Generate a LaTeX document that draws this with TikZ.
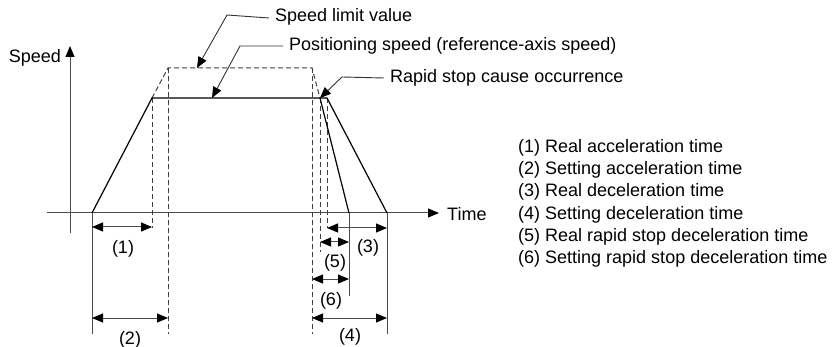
\documentclass[tikz,border=0pt]{standalone}
\usepackage{fontspec}
\setmainfont{Liberation Sans}
\usetikzlibrary{arrows.meta}
\begin{document}
\begin{tikzpicture}[x=1pt,y=-1pt,
  txt/.style={inner sep=0pt,font=\fontsize{18}{21}\selectfont},
  axis/.style={line width=1pt,draw=black!70},
  curve/.style={line width=1.2pt,draw=black},
  dsh/.style={line width=1pt,draw=black!75,dash pattern=on 5pt off 3pt},
  vline/.style={line width=1pt,draw=black!70},
  tipA/.style={-{Triangle[length=11pt,width=9pt,fill=black,color=black]}},
  dim/.style={line width=1pt,draw=black!70,{Triangle[length=11pt,width=9pt,fill=black,color=black]}-{Triangle[length=11pt,width=9pt,fill=black,color=black]}},
  leader/.style={line width=0.9pt,draw=black!80,-{Triangle[length=11pt,width=9pt,fill=black,color=black]}}
]
\useasboundingbox (0,0) rectangle (840,347);
% key points
\coordinate (o) at (70,213);
\coordinate (ytop) at (70,46);
\coordinate (ybot) at (70,233);
\coordinate (xl) at (47,213);
\coordinate (xr) at (439,213);
\coordinate (s0) at (92,213);
\coordinate (s1) at (152,98);
\coordinate (s2) at (327,98);
\coordinate (s3) at (387,213);
\coordinate (r1) at (320,98);
\coordinate (r2) at (349,213);
\coordinate (d1) at (168,68);
\coordinate (d2) at (312,68);
% axes
\draw[axis,tipA] (ybot) -- (ytop);
\draw[axis,tipA] (xl) -- (xr);
\node[txt,anchor=east] (speed) at (61,58) {Speed};
\node[txt,anchor=west] (time) at (447,214) {Time};
% speed limit dashed trapezoid
\draw[dsh] (s1) -- (d1) -- (d2) -- (r1);
% dashed verticals
\draw[dsh] (s1) -- (152,228);
\draw[dsh] (d1) -- (168,334);
\draw[dsh] (d2) -- (312,334);
\draw[dsh] (r1) -- (320,252);
\draw[dsh] (s2) -- (327,228);
% solid verticals
\draw[vline] (s0) -- (92,334);
\draw[vline] (r2) -- (349,296);
\draw[vline] (s3) -- (387,334);
% speed curve
\draw[curve] (s0) -- (s1) -- (s2) -- (s3);
\draw[curve] (r1) -- (r2);
% dimension arrows
\draw[dim] (92,227) -- (152,227);
\draw[dim] (92,318) -- (168,318);
\draw[dim] (327,228) -- (387,228);
\draw[dim] (320,242) -- (349,242);
\draw[dim] (312,279) -- (349,279);
\draw[dim] (312,318) -- (387,318);
\node[txt] (l1) at (123,249) {(1)};
\node[txt] (l2) at (130,340) {(2)};
\node[txt] (l3) at (368,248) {(3)};
\node[txt] (l5) at (335,263) {(5)};
\node[txt] (l6) at (331,301) {(6)};
\node[txt] (l4) at (350,337) {(4)};
% top labels with leaders
\node[txt,anchor=west] (slv) at (275,17) {Speed limit value};
\node[txt,anchor=west] (pos) at (289,46) {Positioning speed (reference-axis speed)};
\node[txt,anchor=west] (rap) at (390,78) {Rapid stop cause occurrence};
\coordinate (slb) at (227,15);
\coordinate (posb) at (240,46);
\coordinate (rapb) at (342,77);
\coordinate (slt) at (197,68);
\coordinate (post) at (212,98);
\coordinate (rapt) at (320,98);
\draw[leader] ([xshift=-6pt,yshift=-1pt]slv.west) -- (slb) -- (slt);
\draw[leader] ([xshift=-6pt]pos.west) -- (posb) -- (post);
\draw[leader] ([xshift=-6pt]rap.west) -- (rapb) -- (rapt);
% legend
\node[txt,anchor=north west,align=left,font=\fontsize{18}{22.3}\selectfont] (legend) at (518,139) {(1) Real acceleration time\\(2) Setting acceleration time\\(3) Real deceleration time\\(4) Setting deceleration time\\(5) Real rapid stop deceleration time\\(6) Setting rapid stop deceleration time};
\end{tikzpicture}
\end{document}
